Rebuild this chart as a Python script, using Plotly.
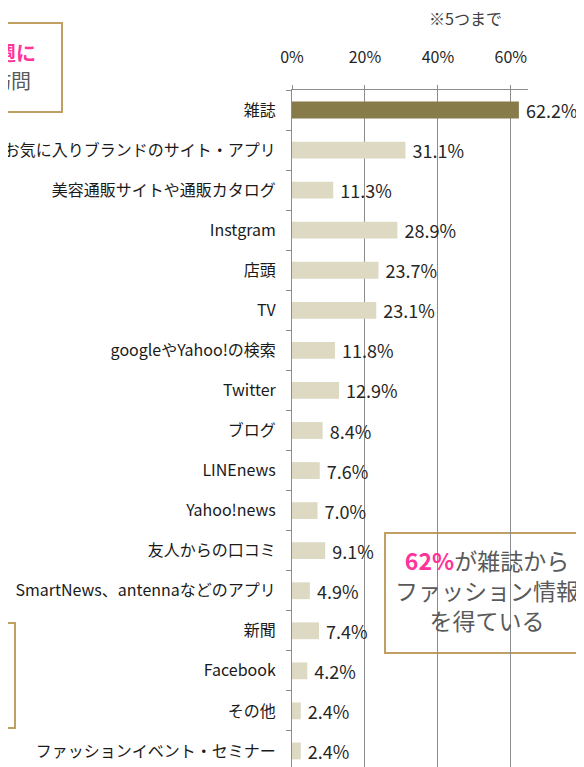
import plotly.graph_objects as go

categories = [
    "雑誌", "お気に入りブランドのサイト・アプリ", "美容通販サイトや通販カタログ", "Instgram",
    "店頭", "TV", "googleやYahoo!の検索", "Twitter", "ブログ", "LINEnews", "Yahoo!news",
    "友人からの口コミ", "SmartNews、antennaなどのアプリ", "新聞", "Facebook", "その他",
    "ファッションイベント・セミナー",
]
values = [62.2, 31.1, 11.3, 28.9, 23.7, 23.1, 11.8, 12.9, 8.4, 7.6, 7.0, 9.1, 4.9, 7.4, 4.2, 2.4, 2.4]
tick_vals = [0, 20, 40, 60]
tick_text = ["0%", "20%", "40%", "60%"]

DARK = "#877B4A"
LIGHT = "#DDD9C3"
GRID = "#8C8C8C"
GOLD = "#C0A062"
PINK = "#FF3399"
FONT = "Noto Sans CJK JP"

OFF = 8  # page body margin offset (screen px = figure px + OFF)
W, H = 584, 767
# plot area in screen pixels: x 292..528, y 90..771
L = 292 - OFF
R = W - (528 - OFF)
T = 90 - OFF
B = H - (771 - OFF)
PW, PH = W - L - R, H - T - B


def px(sx):
    return (sx - OFF - L) / PW


def py(sy):
    return (H - B - (sy - OFF)) / PH


colors = [DARK] + [LIGHT] * (len(values) - 1)

fig = go.Figure()
fig.add_bar(
    y=categories, x=values, orientation="h", width=0.42,
    marker=dict(color=colors, line=dict(width=0)),
    text=[f"{v:.1f}%" for v in values], texttemplate=" %{text}",
    textposition="outside", cliponaxis=False, constraintext="none",
    textfont=dict(family=FONT, size=18, color="#262626"),
)

fig.update_layout(
    width=W, height=H, margin=dict(l=L, r=R, t=T, b=B, autoexpand=False),
    paper_bgcolor="white", plot_bgcolor="white", showlegend=False,
    font=dict(family=FONT, color="#1a1a1a"),
    xaxis=dict(
        side="top", range=[0, 64.7], tickvals=tick_vals, ticktext=tick_text,
        showgrid=True, gridcolor=GRID, gridwidth=1, zeroline=False,
        showline=True, linecolor=GRID, linewidth=1, automargin=False,
        ticks="outside", ticklen=4, tickcolor=GRID,
        tickfont=dict(family=FONT, size=16, color="#262626"), ticklabelstandoff=16,
    ),
    yaxis=dict(
        type="category", categoryorder="array", categoryarray=categories,
        range=[16.5, -0.5], showgrid=False, zeroline=False, automargin=False,
        showline=True, linecolor=GRID, linewidth=1,
        ticks="outside", tickson="boundaries", ticklen=5, tickcolor=GRID,
        tickfont=dict(family=FONT, size=16, color="#1a1a1a"), ticklabelstandoff=12,
    ),
)

shapes = [
    dict(type="rect", xref="paper", yref="paper", x0=px(385), x1=px(640), y0=py(653), y1=py(533),
         line=dict(color=GOLD, width=2), fillcolor="white", layer="below"),
    dict(type="rect", xref="paper", yref="paper", x0=px(-40), x1=px(62), y0=py(112), y1=py(23),
         line=dict(color=GOLD, width=2), fillcolor="rgba(0,0,0,0)", layer="above"),
    dict(type="rect", xref="paper", yref="paper", x0=px(-40), x1=px(15), y0=py(728), y1=py(623),
         line=dict(color=GOLD, width=2), fillcolor="rgba(0,0,0,0)", layer="above"),
]
fig.update_layout(shapes=shapes)

fig.add_annotation(xref="paper", yref="paper", x=px(465), y=py(18), text="※5つまで",
                   xanchor="center", yanchor="middle",
                   showarrow=False, font=dict(family=FONT, size=16, color="#404040"))
fig.add_annotation(xref="paper", yref="paper", x=px(487), y=py(590),
                   xanchor="center", yanchor="middle",
                   text=f"<span style='color:{PINK}'><b>62%</b></span>が雑誌から<br>ファッション情報<br>を得ている",
                   showarrow=False, align="center",
                   font=dict(family=FONT, size=23, color="#595959"))
fig.add_annotation(xref="paper", yref="paper", x=px(38), y=py(52), xanchor="right", yanchor="middle",
                   text="<b>週に</b>", showarrow=False,
                   font=dict(family=FONT, size=20, color=PINK))
fig.add_annotation(xref="paper", yref="paper", x=px(33), y=py(80), xanchor="right", yanchor="middle",
                   text="訪問", showarrow=False,
                   font=dict(family=FONT, size=20, color="#595959"))

fig.write_html("out.html")
